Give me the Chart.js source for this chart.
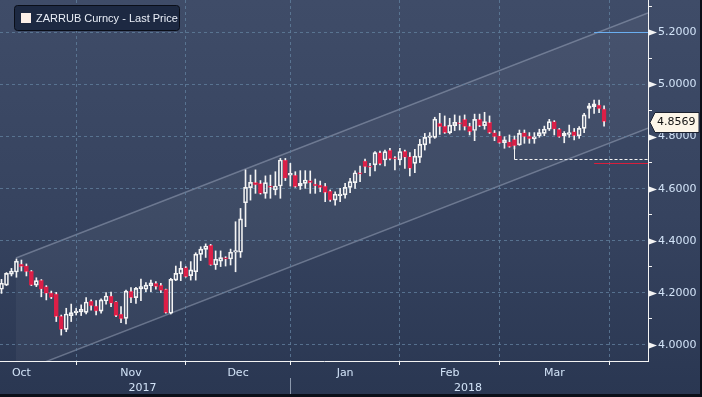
<!DOCTYPE html>
<html>
<head>
<meta charset="utf-8">
<script src="https://cdn.jsdelivr.net/npm/chart.js@4.4.1/dist/chart.umd.min.js"></script>
<style>
  html, body { margin: 0; padding: 0; background: #0b0f18; }
  #wrap { width: 700px; height: 394px; }
</style>
</head>
<body>
<div id="wrap"><canvas id="fxChart" width="700" height="394"></canvas></div>
<script>
// ZARRUB daily candles, one entry per trading day (11 Oct 2017 .. 30 Mar 2018)
const openPx = [
  4.214, 4.230, 4.272, 4.280, 4.311, 4.304, 4.284, 4.230, 4.249, 4.224,
  4.200, 4.196, 4.111, 4.060, 4.113, 4.124, 4.127, 4.125, 4.169, 4.150,
  4.130, 4.169, 4.188, 4.166, 4.119, 4.102, 4.207, 4.182, 4.215, 4.214,
  4.228, 4.237, 4.230, 4.214, 4.122, 4.249, 4.273, 4.297, 4.266, 4.281,
  4.348, 4.367, 4.383, 4.307, 4.322, 4.335, 4.330, 4.356, 4.356, 4.546,
  4.604, 4.624, 4.620, 4.582, 4.611, 4.595, 4.610, 4.710, 4.652, 4.652,
  4.610, 4.620, 4.631, 4.618, 4.614, 4.610, 4.591, 4.556, 4.573, 4.576,
  4.605, 4.623, 4.661, 4.706, 4.687, 4.691, 4.738, 4.710, 4.748, 4.719,
  4.710, 4.744, 4.723, 4.697, 4.720, 4.768, 4.797, 4.797, 4.851, 4.840,
  4.815, 4.842, 4.853, 4.866, 4.840, 4.823, 4.866, 4.842, 4.854, 4.815,
  4.803, 4.776, 4.780, 4.789, 4.768, 4.815, 4.802, 4.791, 4.803, 4.812,
  4.828, 4.857, 4.828, 4.802, 4.808, 4.819, 4.803, 4.831, 4.908, 4.915,
  4.921, 4.906
];
const highPx = [
  4.252, 4.278, 4.294, 4.330, 4.326, 4.311, 4.286, 4.258, 4.251, 4.228,
  4.207, 4.202, 4.115, 4.141, 4.157, 4.141, 4.154, 4.182, 4.173, 4.170,
  4.177, 4.201, 4.203, 4.167, 4.147, 4.211, 4.220, 4.221, 4.253, 4.240,
  4.249, 4.243, 4.237, 4.215, 4.256, 4.303, 4.320, 4.301, 4.320, 4.354,
  4.377, 4.388, 4.386, 4.361, 4.361, 4.339, 4.368, 4.473, 4.524, 4.672,
  4.652, 4.672, 4.631, 4.649, 4.652, 4.665, 4.716, 4.716, 4.697, 4.665,
  4.669, 4.669, 4.668, 4.637, 4.629, 4.620, 4.595, 4.588, 4.601, 4.620,
  4.640, 4.668, 4.687, 4.713, 4.697, 4.742, 4.744, 4.748, 4.755, 4.723,
  4.755, 4.748, 4.738, 4.751, 4.789, 4.812, 4.815, 4.874, 4.889, 4.879,
  4.870, 4.883, 4.879, 4.883, 4.851, 4.886, 4.886, 4.893, 4.879, 4.823,
  4.819, 4.799, 4.806, 4.802, 4.825, 4.825, 4.815, 4.815, 4.828, 4.840,
  4.866, 4.861, 4.831, 4.819, 4.844, 4.831, 4.838, 4.889, 4.927, 4.940,
  4.940, 4.918
];
const lowPx = [
  4.198, 4.228, 4.265, 4.260, 4.284, 4.265, 4.228, 4.224, 4.185, 4.173,
  4.178, 4.090, 4.038, 4.051, 4.090, 4.115, 4.113, 4.119, 4.134, 4.115,
  4.122, 4.157, 4.147, 4.109, 4.086, 4.081, 4.162, 4.160, 4.170, 4.205,
  4.205, 4.214, 4.201, 4.122, 4.119, 4.247, 4.247, 4.260, 4.249, 4.249,
  4.324, 4.336, 4.306, 4.290, 4.301, 4.303, 4.307, 4.281, 4.336, 4.454,
  4.556, 4.582, 4.579, 4.563, 4.563, 4.576, 4.563, 4.631, 4.610, 4.605,
  4.597, 4.601, 4.582, 4.582, 4.588, 4.550, 4.551, 4.537, 4.550, 4.563,
  4.585, 4.601, 4.627, 4.661, 4.649, 4.668, 4.691, 4.687, 4.710, 4.672,
  4.691, 4.678, 4.649, 4.661, 4.700, 4.748, 4.774, 4.793, 4.808, 4.812,
  4.810, 4.823, 4.825, 4.825, 4.806, 4.784, 4.838, 4.828, 4.812, 4.784,
  4.774, 4.755, 4.759, 4.752, 4.766, 4.774, 4.774, 4.774, 4.797, 4.803,
  4.823, 4.806, 4.797, 4.776, 4.797, 4.787, 4.793, 4.815, 4.870, 4.889,
  4.892, 4.840
];
const closePx = [
  4.237, 4.275, 4.284, 4.322, 4.301, 4.281, 4.230, 4.247, 4.214, 4.198,
  4.183, 4.109, 4.060, 4.119, 4.124, 4.130, 4.137, 4.165, 4.150, 4.130,
  4.173, 4.188, 4.160, 4.113, 4.100, 4.207, 4.182, 4.217, 4.224, 4.230,
  4.239, 4.224, 4.209, 4.124, 4.252, 4.275, 4.294, 4.262, 4.288, 4.349,
  4.368, 4.380, 4.307, 4.329, 4.335, 4.329, 4.356, 4.362, 4.484, 4.605,
  4.624, 4.614, 4.582, 4.623, 4.605, 4.610, 4.710, 4.640, 4.659, 4.608,
  4.620, 4.633, 4.623, 4.610, 4.604, 4.585, 4.556, 4.579, 4.579, 4.605,
  4.627, 4.661, 4.656, 4.684, 4.682, 4.738, 4.695, 4.742, 4.714, 4.713,
  4.742, 4.720, 4.678, 4.725, 4.770, 4.797, 4.802, 4.867, 4.838, 4.815,
  4.844, 4.854, 4.848, 4.838, 4.819, 4.866, 4.842, 4.857, 4.815, 4.799,
  4.776, 4.787, 4.761, 4.764, 4.812, 4.799, 4.791, 4.799, 4.815, 4.828,
  4.857, 4.828, 4.799, 4.812, 4.815, 4.803, 4.831, 4.883, 4.918, 4.925,
  4.906, 4.857
];

// index of the first trading day of each month (Oct starts before the window)
const monthStarts = [-7, 15, 37, 58, 80, 100, 122];
const monthLabels = ['Oct', 'Nov', 'Dec', 'Jan', 'Feb', 'Mar'];
const yearLabels = ['2017', '2018'];
const yearCenters = [28.3, 93.7];

const lastPrice = 4.8569;
const seriesName = 'ZARRUB Curncy - Last Price';

// trend channel drawn on the chart: start point, slope per day, width
const channelStart = [2.9, 4.334];
const channelSlope = 0.00741;
const channelWidth = 0.4426;

// marker lines on the right
const highMark = 5.2;
const lowMark = 4.697;
const markFrom = 119;
const supportIndex = 103;
const supportLevel = 4.714;

const xMin = -0.3, xMax = 129.82;
const yMin = 3.9386, yMax = 5.3239;

const RED = '#dc1f47';
const WHITE = '#f4f4f4';
const GRID = 'rgba(96,126,156,0.8)';
const LABEL = '#d2e3f7';

const idx = closePx.map((_, i) => i);
const isUp = idx.map(i => closePx[i] >= openPx[i]);

const wickTop = idx.map(i => ({ x: i, y: [Math.max(openPx[i], closePx[i]), highPx[i]] }));
const wickBottom = idx.map(i => ({ x: i, y: [lowPx[i], Math.min(openPx[i], closePx[i])] }));
const bodies = idx.map(i => {
  let a = openPx[i], b = closePx[i];
  if (Math.abs(a - b) < 0.006) {
    const m = (a + b) / 2;
    a = m - 0.003; b = m + 0.003;
  }
  return { x: i, y: [a, b] };
});

// month ticks: boundaries carry the grid line, midpoints carry the label
const monthMids = monthLabels.map((_, k) => (monthStarts[k] + monthStarts[k + 1]) / 2);
const isBoundary = v => monthStarts.includes(v);
const isMajor = v => Math.round(v * 10) % 2 === 0;

const chartDecor = {
  id: 'chartDecor',
  beforeDraw(chart) {
    const { ctx, width, height, chartArea: a, scales: { x, y } } = chart;
    ctx.save();
    const g = ctx.createLinearGradient(0, 0, 0, height);
    g.addColorStop(0, '#3f4c68');
    g.addColorStop(0.55, '#36435f');
    g.addColorStop(1, '#2a3752');
    ctx.fillStyle = g;
    ctx.fillRect(0, 0, width, height);

    ctx.beginPath();
    ctx.rect(a.left, a.top, a.right - a.left, a.bottom - a.top);
    ctx.clip();
    const i0 = channelStart[0], i1 = xMax;
    const u0 = channelStart[1], u1 = u0 + (i1 - i0) * channelSlope;
    const px0 = x.getPixelForValue(i0), px1 = x.getPixelForValue(i1);
    ctx.beginPath();
    ctx.moveTo(px0, y.getPixelForValue(u0));
    ctx.lineTo(px1, y.getPixelForValue(u1));
    ctx.lineTo(px1, y.getPixelForValue(u1 - channelWidth));
    ctx.lineTo(px0, y.getPixelForValue(u0 - channelWidth));
    ctx.closePath();
    ctx.fillStyle = 'rgba(255,255,255,0.045)';
    ctx.fill();
    ctx.strokeStyle = 'rgba(185,195,215,0.4)';
    ctx.lineWidth = 1.5;
    ctx.beginPath();
    ctx.moveTo(px0, y.getPixelForValue(u0));
    ctx.lineTo(px1, y.getPixelForValue(u1));
    ctx.moveTo(px0, y.getPixelForValue(u0 - channelWidth));
    ctx.lineTo(px1, y.getPixelForValue(u1 - channelWidth));
    ctx.stroke();
    ctx.restore();
  },
  afterDraw(chart) {
    const { ctx, width, chartArea: a, scales: { x, y } } = chart;
    ctx.save();

    // high / low markers
    const mx = x.getPixelForValue(markFrom);
    ctx.lineWidth = 1;
    ctx.strokeStyle = '#6aaef0';
    ctx.beginPath();
    ctx.moveTo(mx, Math.round(y.getPixelForValue(highMark)) + 0.5);
    ctx.lineTo(a.right, Math.round(y.getPixelForValue(highMark)) + 0.5);
    ctx.stroke();
    ctx.strokeStyle = '#d81e3c';
    ctx.beginPath();
    ctx.moveTo(mx, Math.round(y.getPixelForValue(lowMark)) + 0.5);
    ctx.lineTo(a.right, Math.round(y.getPixelForValue(lowMark)) + 0.5);
    ctx.stroke();

    // support line from the March low
    const sx = Math.round(x.getPixelForValue(supportIndex)) + 0.5;
    const sy = Math.round(y.getPixelForValue(supportLevel)) + 0.5;
    ctx.strokeStyle = WHITE;
    ctx.beginPath();
    ctx.moveTo(sx, y.getPixelForValue(lowPx[supportIndex]));
    ctx.lineTo(sx, sy);
    ctx.stroke();
    ctx.setLineDash([3, 2]);
    ctx.beginPath();
    ctx.moveTo(sx, sy);
    ctx.lineTo(a.right, sy);
    ctx.stroke();
    ctx.setLineDash([]);

    // arrow marks on the major price ticks
    ctx.fillStyle = WHITE;
    y.ticks.forEach(t => {
      if (!isMajor(t.value)) return;
      const py = Math.round(y.getPixelForValue(t.value)) + 0.5;
      ctx.beginPath();
      ctx.moveTo(a.right + 1, py - 3);
      ctx.lineTo(a.right + 9, py);
      ctx.lineTo(a.right + 1, py + 3);
      ctx.closePath();
      ctx.fill();
    });

    // last price tag
    const ly = Math.round(y.getPixelForValue(lastPrice)) + 0.5;
    const bx = a.right + 2;
    ctx.beginPath();
    ctx.moveTo(bx, ly);
    ctx.lineTo(bx + 5, ly - 10);
    ctx.lineTo(width - 1, ly - 10);
    ctx.lineTo(width - 1, ly + 10);
    ctx.lineTo(bx + 5, ly + 10);
    ctx.closePath();
    ctx.fillStyle = '#fdf6e9';
    ctx.fill();
    ctx.strokeStyle = '#1b2130';
    ctx.stroke();
    ctx.fillStyle = '#111111';
    ctx.font = '11px "DejaVu Sans"';
    ctx.textAlign = 'left';
    ctx.textBaseline = 'middle';
    ctx.fillText(lastPrice.toFixed(4), bx + 7, ly);

    // year divider under the axis
    const yx = Math.round(x.getPixelForValue(monthStarts[3])) + 0.5;
    ctx.strokeStyle = '#8c99ad';
    ctx.beginPath();
    ctx.moveTo(yx, a.bottom + 17);
    ctx.lineTo(yx, chart.height);
    ctx.stroke();

    // legend box
    ctx.beginPath();
    ctx.roundRect(14.5, 5.5, 165, 25, 3);
    ctx.fillStyle = '#1d2942';
    ctx.fill();
    ctx.strokeStyle = '#0a0e18';
    ctx.stroke();
    ctx.fillStyle = '#fbefe9';
    ctx.fillRect(21, 13, 10, 10);
    ctx.fillStyle = '#e9eef7';
    ctx.font = '11px "Liberation Sans"';
    ctx.textBaseline = 'middle';
    ctx.fillText(seriesName, 36, 18.5);
    ctx.restore();
  }
};

Chart.defaults.font.family = '"DejaVu Sans", sans-serif';
Chart.defaults.font.size = 11;

new Chart(document.getElementById('fxChart'), {
  type: 'bar',
  data: {
    datasets: [
      { label: 'wick top', data: wickTop, backgroundColor: WHITE, barThickness: 1, grouped: false },
      { label: 'wick bottom', data: wickBottom, backgroundColor: WHITE, barThickness: 1, grouped: false },
      {
        label: seriesName,
        data: bodies,
        backgroundColor: idx.map(i => isUp[i] ? 'rgba(0,0,0,0)' : RED),
        borderColor: idx.map(i => isUp[i] ? WHITE : RED),
        borderWidth: 1,
        borderSkipped: false,
        barThickness: 4,
        grouped: false
      }
    ]
  },
  options: {
    responsive: false,
    animation: false,
    events: [],
    layout: { padding: 0 },
    plugins: { legend: { display: false }, tooltip: { enabled: false } },
    scales: {
      x: {
        type: 'linear',
        position: 'bottom',
        weight: 0,
        min: xMin,
        max: xMax,
        offset: false,
        afterBuildTicks: s => {
          s.ticks = monthStarts.concat(monthMids).sort((p, q) => p - q).map(v => ({ value: v }));
        },
        afterFit: s => { s.height = 18; s.paddingLeft = 0; s.paddingRight = 0; },
        grid: {
          offset: false,
          color: c => (c.tick && isBoundary(c.tick.value)) ? GRID : 'rgba(0,0,0,0)',
          tickColor: c => (c.tick && isBoundary(c.tick.value)) ? WHITE : 'rgba(0,0,0,0)',
          tickLength: 4
        },
        border: { color: WHITE, width: 1, dash: [3, 3] },
        ticks: {
          autoSkip: false,
          maxRotation: 0,
          padding: 2,
          color: LABEL,
          callback: v => {
            const k = monthMids.indexOf(v);
            return k >= 0 ? monthLabels[k] : '';
          }
        }
      },
      xYear: {
        type: 'linear',
        position: 'bottom',
        weight: 1,
        min: xMin,
        max: xMax,
        offset: false,
        afterBuildTicks: s => { s.ticks = yearCenters.map(v => ({ value: v })); },
        afterFit: s => { s.height = 15; s.paddingLeft = 0; s.paddingRight = 0; },
        grid: { display: false, drawTicks: false, drawOnChartArea: false },
        border: { display: false },
        ticks: {
          autoSkip: false,
          maxRotation: 0,
          padding: 3,
          color: LABEL,
          callback: (v, i) => yearLabels[i]
        }
      },
      y: {
        type: 'linear',
        position: 'right',
        min: yMin,
        max: yMax,
        beginAtZero: false,
        afterBuildTicks: s => {
          const t = [];
          for (let k = 40; k <= 53; k++) t.push({ value: k / 10 });
          s.ticks = t;
        },
        afterFit: s => { s.width = 52; s.paddingTop = 0; s.paddingBottom = 0; },
        grid: {
          color: c => (c.tick && isMajor(c.tick.value)) ? GRID : 'rgba(0,0,0,0)',
          tickColor: WHITE,
          tickLength: 4
        },
        border: { color: WHITE, width: 1, dash: [3, 3] },
        ticks: {
          autoSkip: false,
          padding: 6,
          color: LABEL,
          callback: v => isMajor(v) ? v.toFixed(4) : ''
        }
      }
    }
  },
  plugins: [chartDecor]
});
</script>
</body>
</html>
